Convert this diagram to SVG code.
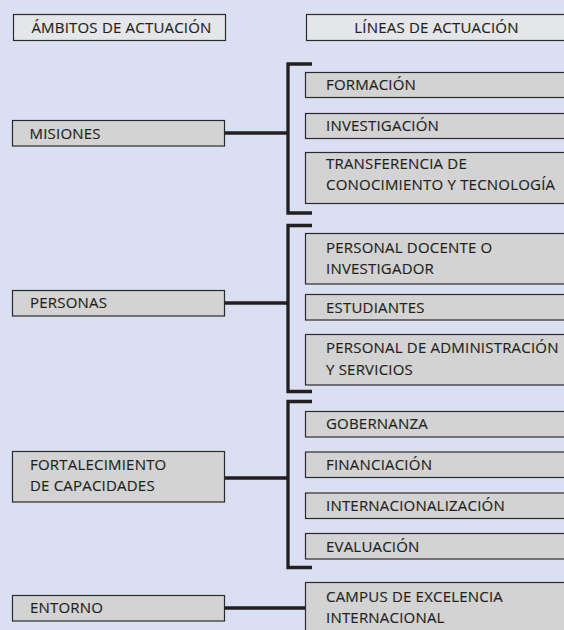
<svg xmlns="http://www.w3.org/2000/svg" width="564" height="630" viewBox="0 0 564 630">
<style>
.bg{fill:#dae0f2}
.hdr{fill:#e5e6ea;stroke:#2b2b2b;stroke-width:1.2}
.box{fill:#d3d3d3;stroke:#2b2b2b;stroke-width:1.2}
.t{font-family:"Open Sans","Noto Sans",sans-serif;font-size:15px;fill:#231f20;stroke:#231f20;stroke-width:0.15;letter-spacing:0.2px}
.c{fill:none;stroke:#231f20;stroke-width:3.3;stroke-linejoin:miter}
</style>
<rect class="bg" x="0" y="0" width="564" height="630"/>
<g id="hdr-ambitos"><rect class="hdr" x="13.5" y="14.5" width="212" height="26"/><text class="t" x="121.5" y="32.5" text-anchor="middle">ÁMBITOS DE ACTUACIÓN</text></g>
<g id="hdr-lineas"><rect class="hdr" x="306.5" y="14.5" width="270" height="26"/><text class="t" x="436.5" y="32.5" text-anchor="middle">LÍNEAS DE ACTUACIÓN</text></g>
<g id="connectors">
<path class="c" d="M225 133H288"/>
<path class="c" d="M312 64H288V213H312"/>
<path class="c" d="M225 303H288"/>
<path class="c" d="M312 225.5H288V391.5H312"/>
<path class="c" d="M225 478H288"/>
<path class="c" d="M312 401.5H288V567.5H312"/>
<path class="c" d="M225 608H305"/>
</g>
<g id="misiones"><rect class="box" x="12.5" y="120.5" width="212" height="25.5"/><text class="t" x="29.5" y="138.5">MISIONES</text></g>
<g id="personas"><rect class="box" x="12.5" y="290.5" width="212" height="25.5"/><text class="t" x="30" y="308.3">PERSONAS</text></g>
<g id="fortalecimiento"><rect class="box" x="12.5" y="451.5" width="212" height="50.5"/><text class="t" x="30" y="469.5">FORTALECIMIENTO</text><text class="t" x="30" y="491">DE CAPACIDADES</text></g>
<g id="entorno"><rect class="box" x="12.5" y="595.5" width="212" height="25.5"/><text class="t" x="30" y="613.3">ENTORNO</text></g>
<g id="formacion"><rect class="box" x="305.5" y="72.5" width="270" height="25"/><text class="t" x="326" y="90">FORMACIÓN</text></g>
<g id="investigacion"><rect class="box" x="305.5" y="113.5" width="270" height="25"/><text class="t" x="326" y="131">INVESTIGACIÓN</text></g>
<g id="transferencia"><rect class="box" x="305.5" y="152.5" width="270" height="51"/><text class="t" x="326" y="168.5">TRANSFERENCIA DE</text><text class="t" x="326" y="190">CONOCIMIENTO Y TECNOLOGÍA</text></g>
<g id="pdi"><rect class="box" x="305.5" y="233.5" width="270" height="50.5"/><text class="t" x="326" y="252.5">PERSONAL DOCENTE O</text><text class="t" x="326" y="274">INVESTIGADOR</text></g>
<g id="estudiantes"><rect class="box" x="305.5" y="294.5" width="270" height="25.5"/><text class="t" x="326" y="312.5">ESTUDIANTES</text></g>
<g id="pas"><rect class="box" x="305.5" y="334.5" width="270" height="50.5"/><text class="t" x="326" y="353">PERSONAL DE ADMINISTRACIÓN</text><text class="t" x="326" y="374.7">Y SERVICIOS</text></g>
<g id="gobernanza"><rect class="box" x="305.5" y="411.5" width="270" height="25.5"/><text class="t" x="326" y="429.3">GOBERNANZA</text></g>
<g id="financiacion"><rect class="box" x="305.5" y="452" width="270" height="25.5"/><text class="t" x="326" y="470">FINANCIACIÓN</text></g>
<g id="internacionalizacion"><rect class="box" x="305.5" y="493" width="270" height="25.5"/><text class="t" x="326" y="511">INTERNACIONALIZACIÓN</text></g>
<g id="evaluacion"><rect class="box" x="305.5" y="533.5" width="270" height="25.5"/><text class="t" x="326" y="551.7">EVALUACIÓN</text></g>
<g id="campus"><rect class="box" x="305.5" y="582.5" width="270" height="60"/><text class="t" x="326" y="602">CAMPUS DE EXCELENCIA</text><text class="t" x="326" y="623.3">INTERNACIONAL</text></g>
</svg>
